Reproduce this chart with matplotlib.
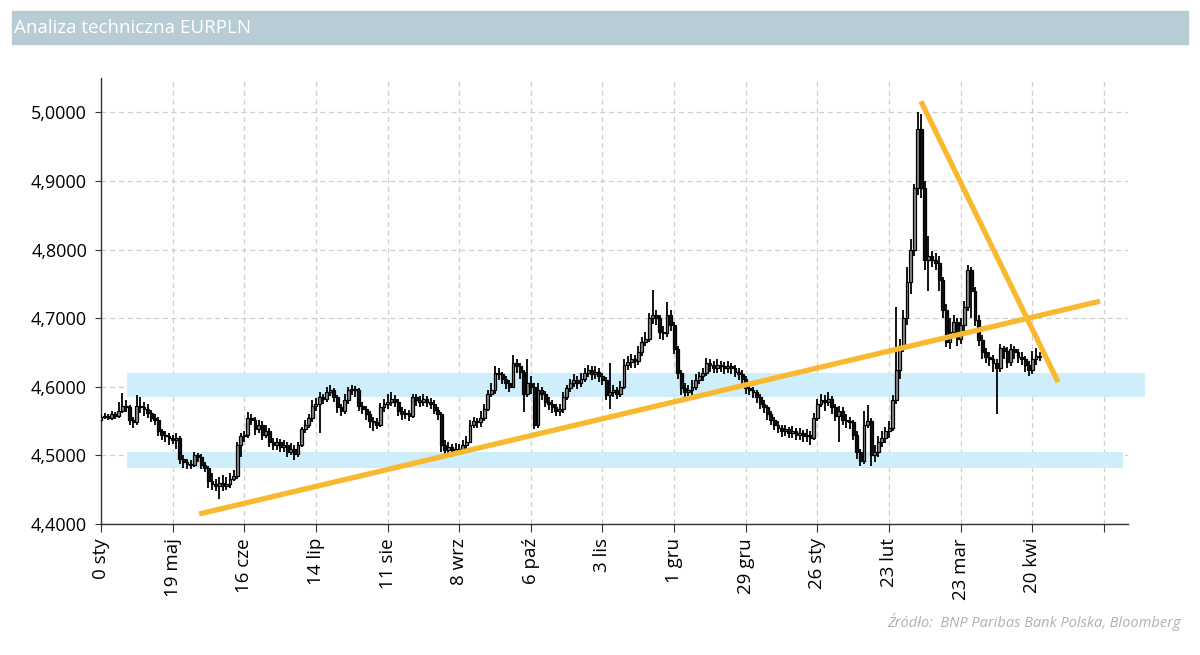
import matplotlib
matplotlib.use("Agg")
import matplotlib.pyplot as plt
from matplotlib.patches import Rectangle
import numpy as np

# EURPLN daily candles (trading days)
first_open = 4.552
closes = [
    4.556, 4.558, 4.555, 4.560, 4.557, 4.565, 4.572, 4.570, 4.552, 4.548,
    4.572, 4.570, 4.568, 4.562, 4.555, 4.552, 4.535, 4.530, 4.528, 4.525,
    4.522, 4.525, 4.495, 4.490, 4.488, 4.486, 4.500, 4.498, 4.486, 4.482,
    4.462, 4.458, 4.456, 4.460, 4.455, 4.458, 4.466, 4.470, 4.515, 4.528,
    4.530, 4.555, 4.552, 4.538, 4.545, 4.530, 4.535, 4.520, 4.515, 4.520,
    4.512, 4.515, 4.505, 4.510, 4.502, 4.515, 4.538, 4.545, 4.555, 4.572,
    4.575, 4.585, 4.582, 4.592, 4.595, 4.585, 4.570, 4.565, 4.580, 4.595,
    4.597, 4.596, 4.572, 4.568, 4.560, 4.550, 4.548, 4.545, 4.570, 4.575,
    4.578, 4.582, 4.578, 4.565, 4.560, 4.562, 4.558, 4.585, 4.580, 4.578,
    4.582, 4.578, 4.575, 4.566, 4.560, 4.515, 4.508, 4.512, 4.505, 4.510,
    4.508, 4.515, 4.520, 4.545, 4.550, 4.548, 4.555, 4.568, 4.590, 4.595,
    4.620, 4.618, 4.612, 4.605, 4.600, 4.635, 4.630, 4.622, 4.590, 4.605,
    4.600, 4.545, 4.595, 4.590, 4.578, 4.575, 4.570, 4.565, 4.568, 4.585,
    4.598, 4.605, 4.610, 4.605, 4.612, 4.620, 4.625, 4.618, 4.622, 4.615,
    4.610, 4.588, 4.592, 4.595, 4.590, 4.600, 4.632, 4.636, 4.640, 4.638,
    4.650, 4.665, 4.670, 4.700, 4.705, 4.700, 4.680, 4.678, 4.705, 4.690,
    4.655, 4.620, 4.598, 4.592, 4.595, 4.600, 4.610, 4.615, 4.620, 4.635,
    4.632, 4.628, 4.632, 4.630, 4.628, 4.630, 4.627, 4.622, 4.618, 4.612,
    4.598, 4.596, 4.592, 4.585, 4.575, 4.570, 4.560, 4.552, 4.545, 4.540,
    4.535, 4.538, 4.533, 4.536, 4.530, 4.532, 4.528, 4.530, 4.525, 4.555,
    4.575, 4.580, 4.578, 4.582, 4.570, 4.558, 4.565, 4.552, 4.550, 4.548,
    4.530, 4.505, 4.492, 4.545, 4.550, 4.500, 4.505, 4.520, 4.525, 4.535,
    4.540, 4.580, 4.625, 4.660, 4.700, 4.752, 4.800, 4.890, 4.975, 4.890,
    4.785, 4.790, 4.785, 4.780, 4.755, 4.712, 4.665, 4.680, 4.694, 4.670,
    4.690, 4.716, 4.770, 4.740, 4.697, 4.668, 4.650, 4.643, 4.640, 4.634,
    4.628, 4.656, 4.652, 4.636, 4.655, 4.650, 4.643, 4.640, 4.632, 4.625,
    4.640, 4.645, 4.643,
]
highs = [
    4.560, 4.562, 4.561, 4.564, 4.563, 4.578, 4.591, 4.580, 4.574, 4.556,
    4.588, 4.585, 4.578, 4.575, 4.566, 4.560, 4.556, 4.538, 4.536, 4.533,
    4.530, 4.532, 4.528, 4.500, 4.495, 4.494, 4.505, 4.504, 4.502, 4.490,
    4.485, 4.475, 4.466, 4.468, 4.472, 4.468, 4.474, 4.478, 4.520, 4.533,
    4.536, 4.563, 4.560, 4.556, 4.552, 4.550, 4.545, 4.540, 4.525, 4.526,
    4.524, 4.522, 4.520, 4.518, 4.515, 4.520, 4.542, 4.552, 4.560, 4.580,
    4.584, 4.592, 4.590, 4.600, 4.602, 4.598, 4.588, 4.575, 4.590, 4.600,
    4.602, 4.601, 4.598, 4.578, 4.572, 4.565, 4.556, 4.555, 4.576, 4.582,
    4.590, 4.592, 4.588, 4.582, 4.570, 4.568, 4.566, 4.590, 4.590, 4.586,
    4.589, 4.586, 4.583, 4.580, 4.570, 4.563, 4.522, 4.520, 4.517, 4.518,
    4.516, 4.522, 4.528, 4.552, 4.556, 4.555, 4.565, 4.575, 4.596, 4.605,
    4.630, 4.628, 4.622, 4.615, 4.610, 4.646, 4.640, 4.635, 4.625, 4.640,
    4.615, 4.605, 4.605, 4.600, 4.594, 4.585, 4.580, 4.575, 4.575, 4.592,
    4.603, 4.612, 4.618, 4.616, 4.620, 4.628, 4.632, 4.630, 4.630, 4.628,
    4.620, 4.614, 4.635, 4.602, 4.600, 4.608, 4.640, 4.645, 4.648, 4.646,
    4.660, 4.672, 4.680, 4.708, 4.741, 4.712, 4.705, 4.688, 4.723, 4.712,
    4.695, 4.660, 4.625, 4.605, 4.603, 4.610, 4.618, 4.622, 4.628, 4.642,
    4.640, 4.638, 4.640, 4.638, 4.636, 4.637, 4.635, 4.632, 4.628, 4.624,
    4.616, 4.604, 4.600, 4.596, 4.590, 4.580, 4.574, 4.565, 4.556, 4.550,
    4.545, 4.544, 4.542, 4.543, 4.540, 4.540, 4.537, 4.538, 4.535, 4.562,
    4.582, 4.590, 4.588, 4.592, 4.586, 4.575, 4.572, 4.570, 4.560, 4.556,
    4.552, 4.535, 4.510, 4.565, 4.574, 4.555, 4.515, 4.528, 4.535, 4.542,
    4.550, 4.588, 4.716, 4.670, 4.712, 4.775, 4.815, 4.895, 5.000, 4.998,
    4.900, 4.820, 4.798, 4.795, 4.790, 4.760, 4.720, 4.700, 4.705, 4.700,
    4.700, 4.725, 4.778, 4.775, 4.745, 4.705, 4.675, 4.656, 4.650, 4.646,
    4.640, 4.662, 4.660, 4.658, 4.663, 4.660, 4.655, 4.650, 4.645, 4.638,
    4.652, 4.656, 4.650,
]
lows = [
    4.549, 4.553, 4.551, 4.552, 4.553, 4.554, 4.562, 4.563, 4.545, 4.540,
    4.545, 4.562, 4.558, 4.555, 4.548, 4.545, 4.528, 4.522, 4.520, 4.515,
    4.516, 4.510, 4.488, 4.482, 4.480, 4.480, 4.483, 4.490, 4.480, 4.476,
    4.452, 4.450, 4.448, 4.436, 4.448, 4.450, 4.452, 4.462, 4.466, 4.498,
    4.520, 4.526, 4.545, 4.530, 4.532, 4.522, 4.525, 4.512, 4.508, 4.508,
    4.505, 4.505, 4.498, 4.500, 4.493, 4.498, 4.512, 4.532, 4.540, 4.548,
    4.565, 4.532, 4.575, 4.578, 4.586, 4.578, 4.562, 4.558, 4.560, 4.575,
    4.588, 4.585, 4.565, 4.560, 4.552, 4.540, 4.535, 4.538, 4.542, 4.563,
    4.568, 4.572, 4.570, 4.558, 4.552, 4.553, 4.550, 4.555, 4.572, 4.570,
    4.572, 4.570, 4.568, 4.560, 4.552, 4.505, 4.500, 4.502, 4.498, 4.500,
    4.500, 4.503, 4.510, 4.518, 4.540, 4.540, 4.542, 4.550, 4.565, 4.585,
    4.590, 4.610, 4.604, 4.597, 4.592, 4.598, 4.620, 4.612, 4.563, 4.585,
    4.590, 4.538, 4.540, 4.580, 4.570, 4.566, 4.562, 4.558, 4.558, 4.562,
    4.580, 4.592, 4.600, 4.597, 4.600, 4.607, 4.614, 4.610, 4.612, 4.607,
    4.602, 4.580, 4.568, 4.585, 4.582, 4.585, 4.597, 4.625, 4.628, 4.628,
    4.632, 4.645, 4.660, 4.665, 4.692, 4.690, 4.670, 4.668, 4.672, 4.682,
    4.648, 4.612, 4.588, 4.583, 4.585, 4.588, 4.595, 4.604, 4.608, 4.615,
    4.622, 4.620, 4.620, 4.621, 4.618, 4.620, 4.618, 4.614, 4.610, 4.602,
    4.590, 4.588, 4.584, 4.576, 4.567, 4.562, 4.552, 4.544, 4.537, 4.532,
    4.527, 4.528, 4.525, 4.526, 4.522, 4.523, 4.520, 4.520, 4.515, 4.522,
    4.550, 4.570, 4.565, 4.572, 4.560, 4.550, 4.520, 4.545, 4.540, 4.538,
    4.522, 4.495, 4.484, 4.488, 4.540, 4.484, 4.490, 4.498, 4.512, 4.518,
    4.525, 4.535, 4.575, 4.612, 4.650, 4.690, 4.735, 4.790, 4.880, 4.875,
    4.770, 4.740, 4.775, 4.770, 4.740, 4.700, 4.658, 4.655, 4.672, 4.660,
    4.662, 4.680, 4.710, 4.700, 4.688, 4.660, 4.640, 4.635, 4.630, 4.622,
    4.561, 4.622, 4.640, 4.628, 4.630, 4.640, 4.635, 4.632, 4.622, 4.615,
    4.618, 4.632, 4.638,
]
opens = [first_open] + closes[:-1]

tick_labels = ["0 sty", "19 maj", "16 cze", "14 lip", "11 sie", "8 wrz", "6 paź",
               "3 lis", "1 gru", "29 gru", "26 sty", "23 lut", "23 mar", "20 kwi", ""]

# support/resistance zones (price ranges) and trend lines (day, price)
zones = [(4.585, 4.620, 7.3, 291.5), (4.4815, 4.5045, 7.3, 285.3)]
trend_up = ([27.4, 278.9], [4.4146, 4.7247])
trend_down = ([228.9, 267.2], [5.016, 4.6068])

fig = plt.figure(figsize=(12, 6.55), dpi=100)

# title band
fig.patches.append(Rectangle((12 / 1200, 1 - 44 / 655), 1176 / 1200, 33 / 655,
                             transform=fig.transFigure, color="#b8ccd5", zorder=0))
fig.text(14 / 1200, 1 - 28 / 655, "Analiza techniczna EURPLN", color="white",
         fontsize=13.5, va="center", ha="left", family="Open Sans")

ax = fig.add_axes([101 / 1200, 131 / 655, 1027 / 1200, 446 / 655])

x = np.arange(len(closes))
o = np.array(opens)
c = np.array(closes)
lo = np.minimum(o, c)
hi = np.maximum(o, c)
body_col = np.where(c >= o, "#8a8a8a", "#111111")

ax.vlines(x, lows, highs, color="black", lw=1.3, zorder=3)
ax.bar(x, np.maximum(hi - lo, 0.001), bottom=lo, width=0.8, color=body_col,
       edgecolor="black", linewidth=0.9, zorder=4)

for y0, y1, xa, xb in zones:
    ax.add_patch(Rectangle((xa, y0), xb - xa, y1 - y0, color="#cdeefa",
                           zorder=1, clip_on=False, lw=0))

ax.plot(*trend_up, color="#f8b82f", lw=3.8, zorder=5, solid_capstyle="butt")
ax.plot(*trend_down, color="#f8b82f", lw=3.8, zorder=5, solid_capstyle="butt",
        clip_on=False)

ax.set_xlim(0, 286.7)
ax.set_ylim(4.4, 5.05)
ax.set_xticks(np.arange(0, 281, 20))
ax.set_xticklabels(tick_labels, rotation=90, fontsize=13.5, family="Open Sans")
yt = np.arange(4.4, 5.01, 0.1)
ax.set_yticks(yt)
ax.set_yticklabels([f"{v:.4f}".replace(".", ",") for v in yt], fontsize=13,
                   family="Open Sans")
ax.tick_params(axis="y", length=4, pad=6, color="#333333")
ax.tick_params(axis="x", length=6, pad=4, color="#333333")

ax.grid(True, ls=(0, (4, 3)), color="#cfcfcf", lw=0.9, zorder=0)
ax.set_axisbelow(True)
for s in ["top", "right"]:
    ax.spines[s].set_visible(False)
for s in ["left", "bottom"]:
    ax.spines[s].set_color("#333333")
    ax.spines[s].set_linewidth(1.0)

fig.text(1181 / 1200, 1 - 622 / 655, "Źródło:  BNP Paribas Bank Polska, Bloomberg",
         ha="right", va="center", fontsize=10.5, style="italic", color="#b0b0b0",
         family="Open Sans")

fig.savefig("out.png", dpi=100)
